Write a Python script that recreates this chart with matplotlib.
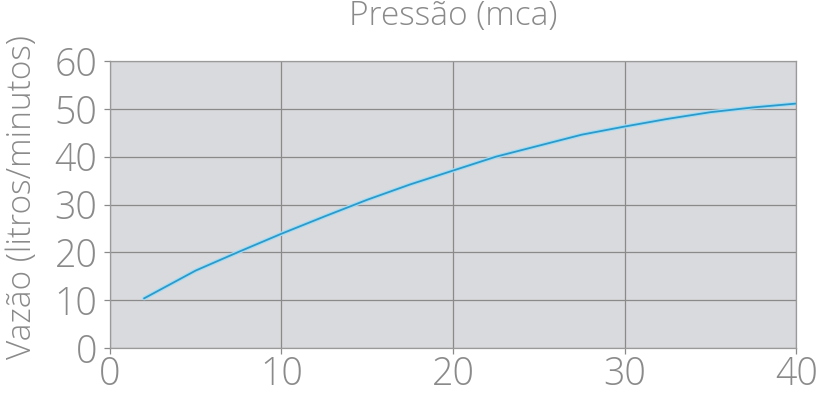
import matplotlib.pyplot as plt

pressao = [2, 5, 7.5, 10, 12.5, 15, 17.5, 20, 22.5, 25, 27.5, 30, 32.5, 35, 37.5, 40]
vazao = [10.4, 16.2, 20.1, 23.9, 27.5, 31.0, 34.2, 37.1, 40.0, 42.3, 44.6, 46.3, 47.9, 49.3, 50.3, 51.1]

xticks = [0, 10, 20, 30, 40]
yticks = [0, 10, 20, 30, 40, 50, 60]

txt = '#8a8a8a'
plt.rcParams['font.family'] = ['Open Sans', 'DejaVu Sans']

fig = plt.figure(figsize=(8.2, 3.96), dpi=100)
ax = fig.add_axes([0.134, 0.121, 0.837, 0.725])
ax.set_facecolor('#d9dadd')

ax.plot(pressao, vazao, color='#a6dcf2', lw=3.0, solid_capstyle='round')
ax.plot(pressao, vazao, color='#2b9acb', lw=1.3)

ax.set_xlim(0, 40)
ax.set_ylim(0, 60)
ax.set_xticks(xticks)
ax.set_yticks(yticks)
ax.grid(True, color='#8a8a8a', lw=0.9)
ax.set_axisbelow(True)
for s in ax.spines.values():
    s.set_color('#9a9a9a')
    s.set_linewidth(0.9)

ax.tick_params(colors='#8a8a8a', length=4, width=0.9, labelcolor=txt, labelsize=27)
ax.tick_params(axis='y', pad=5)
ax.tick_params(axis='x', pad=1)
for lab in ax.get_xticklabels() + ax.get_yticklabels():
    lab.set_fontweight('light')

ax.text(0.5, 1.155, 'Pressão (mca)', color=txt, fontsize=24, fontweight='light',
        ha='center', va='center', transform=ax.transAxes)
ax.set_ylabel('Vazão (litros/minutos)', color=txt, fontsize=24, fontweight='light',
              va='center', ha='center')
ax.yaxis.set_label_coords(-0.128, 0.525)

fig.savefig('out.png', dpi=100, facecolor='white')
